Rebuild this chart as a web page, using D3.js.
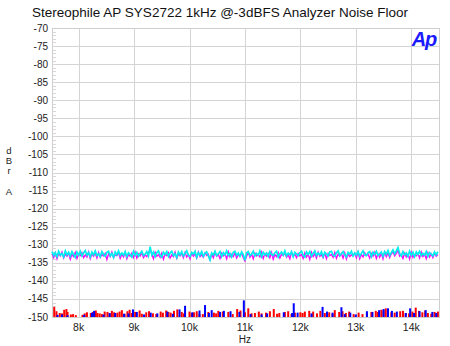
<!DOCTYPE html>
<html>
<head>
<meta charset="utf-8">
<script src="https://cdn.jsdelivr.net/npm/d3@7"></script>
<style>
  body { margin: 0; background: #fff; }
  svg { display: block; font-family: "Liberation Sans", Arial, sans-serif; }
</style>
</head>
<body>
<svg id="chart"></svg>
<script>
// FFT bins: first bin and spacing in Hz
const binStart = 7520;
const binStep = 30;

const cyanDb = [
  -131.9,-133.0,-132.2,-133.3,-131.8,-132.9,-132.4,-133.4,-131.7,-132.8,
  -132.1,-133.2,-131.9,-132.7,-133.5,-132.0,-132.9,-131.8,-133.1,-132.3,
  -131.6,-132.9,-132.2,-133.4,-132.0,-132.8,-131.7,-133.0,-132.5,-133.3,
  -131.9,-132.7,-133.2,-132.1,-131.8,-133.1,-132.4,-133.5,-132.0,-132.8,
  -131.7,-133.0,-132.3,-132.9,-131.9,-133.3,-132.2,-132.7,-133.4,-131.8,
  -132.9,-132.1,-133.2,-132.4,-131.8,-133.0,-132.6,-131.9,-133.1,-130.5,
  -132.8,-132.0,-133.3,-132.2,-131.7,-132.9,-133.4,-132.1,-132.7,-131.9,
  -133.2,-132.3,-131.8,-133.0,-132.5,-133.6,-132.0,-132.8,-131.9,-133.1,
  -132.4,-131.7,-132.9,-133.3,-132.1,-132.6,-131.8,-133.5,-132.2,-132.9,
  -131.9,-133.2,-132.4,-132.0,-133.1,-134.2,-132.3,-132.8,-131.8,-133.0,
  -132.5,-131.9,-133.3,-132.2,-132.8,-131.7,-133.0,-132.4,-133.4,-132.1,
  -131.8,-132.9,-132.3,-133.2,-132.0,-132.7,-134.3,-132.2,-131.9,-133.0,
  -132.6,-131.8,-133.1,-132.4,-132.9,-131.7,-133.3,-132.1,-132.8,-132.3,
  -133.2,-131.9,-132.7,-133.0,-132.2,-131.8,-133.4,-132.5,-132.0,-132.9,
  -131.7,-133.1,-132.3,-132.8,-131.9,-133.3,-132.1,-132.6,-133.0,-132.2,
  -131.8,-132.9,-133.4,-132.0,-132.7,-131.9,-133.2,-132.4,-131.7,-133.0,
  -132.3,-132.8,-131.9,-133.3,-132.1,-132.6,-133.1,-132.0,-131.8,-132.9,
  -133.2,-132.2,-131.7,-133.0,-132.5,-131.9,-132.8,-133.4,-132.1,-132.6,
  -131.8,-133.1,-132.3,-132.9,-131.9,-133.2,-132.4,-131.7,-132.8,-133.0,
  -132.2,-131.9,-133.3,-132.1,-132.7,-131.8,-133.0,-132.5,-132.0,-133.2,
  -131.9,-132.6,-131.6,-133.0,-132.2,-131.4,-132.5,-131.7,-130.8,-132.4,
  -133.1,-131.9,-132.8,-132.3,-133.2,-131.8,-132.9,-132.1,-133.3,-132.0,
  -132.7,-131.8,-133.0,-132.4,-132.9,-131.9,-133.2,-132.2,-132.6,-133.1,
  -132.0,-132.8,-131.9
];

const magentaDb = [
  -132.5,-133.6,-132.2,-133.9,-132.4,-133.1,-132.0,-133.7,-132.6,-133.2,
  -132.3,-134.0,-132.7,-133.3,-132.1,-133.8,-132.5,-133.0,-132.2,-133.6,
  -132.8,-133.4,-132.0,-133.9,-132.6,-133.2,-132.3,-133.7,-132.1,-133.5,
  -132.7,-133.1,-132.4,-134.1,-132.5,-133.3,-132.0,-133.6,-132.8,-133.0,
  -132.2,-133.8,-132.6,-133.4,-132.1,-133.9,-132.7,-133.2,-132.3,-133.5,
  -132.0,-133.7,-132.5,-133.1,-132.2,-133.6,-132.8,-133.3,-132.4,-131.3,
  -132.6,-133.9,-132.1,-133.2,-132.7,-133.5,-132.3,-134.0,-132.5,-133.0,
  -132.2,-133.7,-132.8,-133.3,-132.0,-133.8,-132.6,-133.1,-132.4,-133.6,
  -132.1,-133.4,-132.7,-133.9,-132.3,-133.2,-132.5,-133.7,-132.0,-133.3,
  -132.8,-133.5,-132.2,-133.0,-132.6,-134.4,-132.4,-133.6,-132.1,-133.2,
  -132.7,-133.8,-132.3,-133.1,-132.5,-133.9,-132.0,-133.4,-132.6,-133.3,
  -132.2,-133.7,-132.8,-133.0,-132.4,-133.6,-134.5,-133.2,-132.1,-133.5,
  -132.6,-133.9,-132.3,-133.1,-132.7,-133.4,-132.0,-133.8,-132.5,-133.2,
  -132.4,-133.6,-132.1,-134.0,-132.7,-133.3,-132.2,-133.7,-132.6,-133.0,
  -132.3,-133.5,-132.8,-133.9,-132.0,-133.2,-132.5,-133.6,-132.4,-133.1,
  -132.7,-133.8,-132.2,-133.4,-132.6,-134.1,-132.1,-133.3,-132.5,-133.7,
  -132.0,-133.2,-132.8,-133.6,-132.3,-133.9,-132.4,-133.0,-132.7,-133.5,
  -132.1,-133.8,-132.6,-133.2,-132.4,-133.7,-132.2,-134.0,-132.5,-133.3,
  -132.8,-133.1,-132.3,-133.6,-132.0,-133.9,-132.7,-133.4,-132.2,-133.0,
  -132.6,-133.7,-132.4,-133.2,-132.1,-133.8,-132.5,-133.5,-132.3,-133.9,
  -132.0,-133.3,-132.2,-133.6,-132.5,-132.0,-133.1,-132.4,-131.6,-133.2,
  -132.7,-133.8,-132.3,-133.4,-132.6,-134.0,-132.1,-133.5,-132.8,-133.1,
  -132.4,-133.7,-132.0,-133.3,-132.6,-133.9,-132.2,-133.4,-132.5,-133.6,
  -132.3,-133.2,-132.7
];

// spikes near the floor (Hz, dBr)
const redHz = [7560,7600,7660,7700,7740,7780,7800,7860,7900,7950,8070,8110,8150,8220,8260,8310,8340,
  8380,8420,8470,8520,8560,8600,8640,8700,8740,8780,8830,8880,8920,8960,9020,9100,9140,9220,9270,
  9340,9400,9480,9520,9580,9620,9660,9720,9780,9860,9900,10000,10040,10080,10130,10180,10240,10340,
  10440,10480,10520,10600,10700,10780,10860,10920,11000,11060,11120,11180,11250,11300,11380,11450,
  11520,11580,11620,11720,11780,11840,11900,12000,12040,12080,12160,12230,12300,12360,12440,12520,
  12580,12620,12700,12760,12820,12880,12960,13050,13120,13200,13280,13360,13400,13460,13500,13540,
  13640,13700,13800,13850,13900,13960,14020,14080,14140,14200,14250,14300,14360,14420,14480];
const redDb = [-147.2,-148.4,-148.9,-149.0,-148.0,-147.8,-148.6,-149.3,-149.2,-149.5,-149.4,-149.0,
  -148.7,-148.9,-148.6,-148.2,-148.9,-149.0,-149.2,-148.5,-148.6,-149.0,-148.3,-148.7,-148.8,-148.5,
  -148.1,-149.1,-148.4,-148.0,-148.9,-148.6,-148.2,-149.1,-148.7,-148.4,-149.0,-149.2,-148.5,-148.8,
  -148.2,-148.6,-148.8,-148.3,-147.9,-148.6,-149.0,-148.5,-148.9,-148.7,-148.4,-149.1,-149.2,-148.6,
  -148.8,-149.0,-148.3,-148.5,-148.6,-149.2,-147.8,-148.2,-148.7,-147.6,-149.0,-148.9,-148.5,-149.0,
  -148.8,-148.4,-147.8,-149.1,-148.9,-148.6,-148.4,-149.2,-148.8,-148.7,-148.9,-148.5,-148.3,-148.5,
  -149.0,-148.3,-148.9,-148.7,-149.1,-148.1,-148.6,-148.4,-148.9,-148.5,-149.2,-148.8,-149.2,-149.0,
  -148.6,-148.3,-148.6,-148.0,-148.2,-147.6,-148.7,-148.8,-148.4,-148.3,-148.9,-149.0,-148.5,-147.4,
  -148.3,-148.7,-148.2,-148.9,-149.1,-148.6,-148.5];

const blueHz = [7620,7700,7800,8100,8240,8280,8450,8560,8660,8820,8900,8980,9050,9180,9300,9420,
  9600,9700,9820,9920,10050,10180,10280,10350,10400,10550,10620,10740,10900,10980,11100,11300,11400,
  11700,11850,11880,11950,12200,12400,12480,12580,12740,12800,12900,13000,13200,13300,13420,13500,
  13580,13650,13740,13900,13980,14050,14150,14260,14380,14450];
const blueDb = [-149.4,-149.3,-149.5,-149.4,-148.8,-148.3,-149.3,-148.9,-148.9,-149.1,-149.0,-147.9,
  -148.6,-149.3,-148.8,-149.0,-148.5,-149.1,-147.9,-146.9,-148.7,-148.2,-146.7,-148.9,-148.1,-148.6,
  -148.3,-148.4,-148.6,-145.4,-149.2,-149.3,-149.0,-148.7,-148.9,-146.2,-148.8,-149.0,-147.2,-148.5,
  -148.8,-147.3,-149.2,-148.8,-149.3,-148.4,-148.6,-148.1,-147.8,-147.6,-148.3,-148.5,-148.9,-147.6,
  -148.9,-148.4,-148.1,-148.6,-148.9];

const xTicks = [8000, 9000, 10000, 11000, 12000, 13000, 14000];
const xTickLabels = ["8k", "9k", "10k", "11k", "12k", "13k", "14k"];
const yTicks = d3.range(-70, -151, -5);

const W = 450, H = 346;
const margin = { top: 28, right: 11, bottom: 29, left: 52 };

const svg = d3.select("#chart").attr("width", W).attr("height", H);

const x = d3.scaleLinear().domain([7520, 14500]).range([margin.left, W - margin.right]);
const y = d3.scaleLinear().domain([-150, -70]).range([H - margin.bottom, margin.top]);

// title
svg.append("text")
  .attr("x", 220).attr("y", 17)
  .attr("text-anchor", "middle")
  .style("font-size", "13.5px")
  .attr("fill", "#111")
  .text("Stereophile AP SYS2722 1kHz @-3dBFS Analyzer Noise Floor");

// grid
const grid = svg.append("g").attr("stroke", "#d4d4d4").attr("stroke-width", 1);
grid.selectAll(".gx").data(xTicks).join("line")
  .attr("x1", d => Math.round(x(d)) + 0.5).attr("x2", d => Math.round(x(d)) + 0.5)
  .attr("y1", y(-70)).attr("y2", y(-150));
grid.selectAll(".gy").data(yTicks).join("line")
  .attr("x1", x.range()[0]).attr("x2", x.range()[1])
  .attr("y1", d => Math.round(y(d)) + 0.5).attr("y2", d => Math.round(y(d)) + 0.5);

// minor ticks along the left edge
svg.append("g").attr("stroke", "#d8d8d8")
  .selectAll("line").data(d3.range(-70, -150.5, -1)).join("line")
  .attr("x1", x.range()[0]).attr("x2", x.range()[0] + 4)
  .attr("y1", d => Math.round(y(d)) + 0.5).attr("y2", d => Math.round(y(d)) + 0.5);

// frame
svg.append("rect")
  .attr("x", x.range()[0] + 0.5).attr("y", y(-70) + 0.5)
  .attr("width", x.range()[1] - x.range()[0]).attr("height", y(-150) - y(-70))
  .attr("fill", "none").attr("stroke", "#cfcfcf");

// y tick labels
svg.append("g").selectAll("text").data(yTicks).join("text")
  .attr("x", 48).attr("y", d => y(d) + 3.5)
  .attr("text-anchor", "end")
  .style("font-size", "10px")
  .attr("fill", "#222")
  .text(d => d);

// x tick labels
svg.append("g").selectAll("text").data(xTicks).join("text")
  .attr("x", d => x(d)).attr("y", 331)
  .attr("text-anchor", "middle")
  .style("font-size", "10.5px")
  .attr("fill", "#222")
  .text((d, i) => xTickLabels[i]);

svg.append("text")
  .attr("x", x(11000)).attr("y", 343)
  .attr("text-anchor", "middle")
  .style("font-size", "10px")
  .attr("fill", "#222")
  .text("Hz");

// stacked y-axis unit
const unit = [["d", 154], ["B", 164], ["r", 174], ["A", 195]];
svg.append("g").selectAll("text").data(unit).join("text")
  .attr("x", 9).attr("y", d => d[1])
  .attr("text-anchor", "middle")
  .style("font-size", "9.5px")
  .attr("fill", "#222")
  .text(d => d[0]);

// Ap logo
svg.append("text")
  .attr("x", 424).attr("y", 46)
  .attr("text-anchor", "middle")
  .style("font-size", "20px")
  .style("font-weight", "bold")
  .style("font-style", "italic")
  .style("letter-spacing", "-1px")
  .attr("fill", "#1a1aff")
  .text("Ap");

const plot = svg.append("g");

// spikes at the floor
const bars = (hz, db, color) => plot.append("g").selectAll("rect").data(hz).join("rect")
  .attr("x", d => x(d) - 1).attr("width", 2)
  .attr("y", (d, i) => y(db[i]))
  .attr("height", (d, i) => y(-150) - y(db[i]))
  .attr("fill", color);
bars(redHz, redDb, "#ff0000");
bars(blueHz, blueDb, "#0000ff");

// noise traces
const line = d3.line().x((d, i) => x(binStart + i * binStep)).y(d => y(d));
plot.append("path").datum(magentaDb).attr("d", line)
  .attr("fill", "none").attr("stroke", "#ff00ff").attr("stroke-width", 1.3);
plot.append("path").datum(cyanDb).attr("d", line)
  .attr("fill", "none").attr("stroke", "#00eeee").attr("stroke-width", 1.7);
</script>
</body>
</html>
